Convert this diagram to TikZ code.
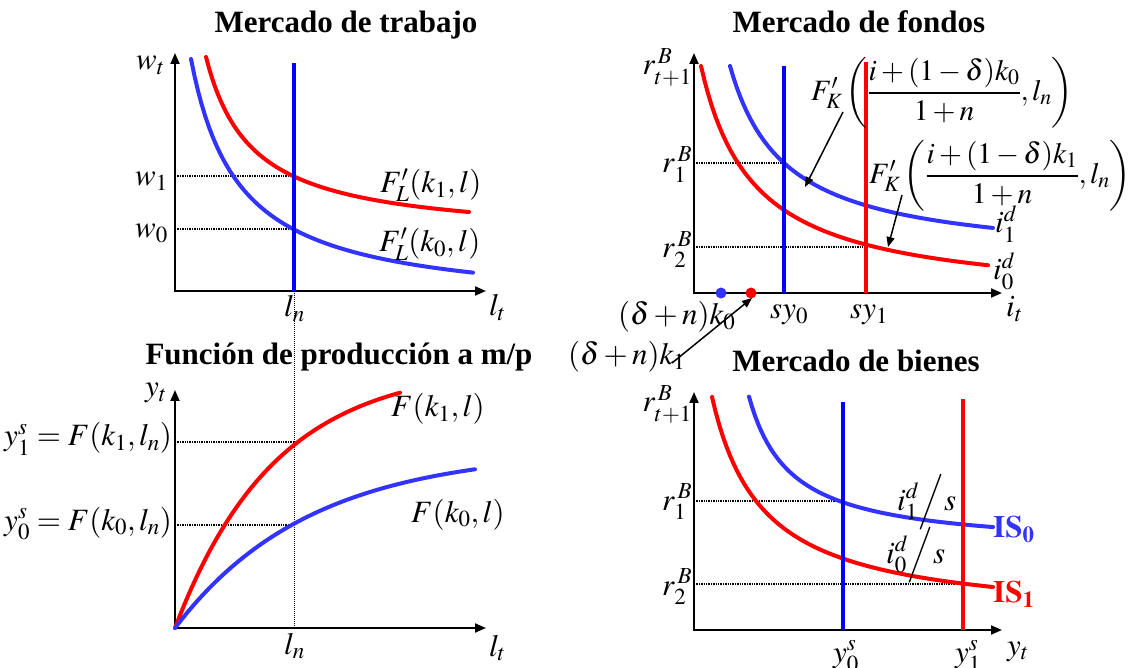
\documentclass[tikz,border=0pt]{standalone}
\usepackage{amsmath}
\usepackage{mathptmx}
\usepackage[no-math]{fontspec}
\setmainfont{Liberation Serif}
\usetikzlibrary{arrows.meta}
\definecolor{cb}{RGB}{51,51,255}
\definecolor{vb}{RGB}{0,0,255}
\definecolor{rr}{RGB}{255,0,0}
\begin{document}
\begin{tikzpicture}[x=1pt,y=-1pt,
  title/.style={font=\fontsize{31}{34}\selectfont\bfseries, inner sep=0pt, anchor=base},
  lbl/.style={font=\fontsize{31}{34}\selectfont, inner sep=0pt},
  biglbl/.style={font=\fontsize{29.5}{33}\selectfont, inner sep=0pt},
  axis/.style={line width=2pt, {Triangle[length=11pt,width=9pt]}-{Triangle[length=11pt,width=9pt]}},
  curvb/.style={line width=4pt, draw=cb, line cap=round},
  curvr/.style={line width=4pt, draw=rr, line cap=round},
  vline/.style={line width=4pt},
  guide/.style={line width=1.4pt, densely dotted},
  pointer/.style={line width=1.5pt, -{Triangle[length=10pt,width=8pt]}}
]
\useasboundingbox (0,0) rectangle (1128,668);

% ---------- Panel 1: Mercado de trabajo ----------
\node[title] (t1) at (346,33) {Mercado de trabajo};
\coordinate (o1) at (175,291);
\coordinate (y1) at (175,53);
\coordinate (x1) at (486,291);
\draw[axis] (y1) -- (o1) -- (x1);
\coordinate (ln1) at (294,291);
\coordinate (ln3) at (294,628);
\draw[line width=1pt, densely dotted] (ln1) -- (ln3);
\coordinate (w1a) at (175,176); \coordinate (w1b) at (294,176);
\coordinate (w0a) at (175,229); \coordinate (w0b) at (294,229);
\draw[guide] (w1a) -- (w1b);
\draw[guide] (w0a) -- (w0b);
\draw[curvr] plot[domain=206:469, samples=80] (\x, {239.3 - 8440/(\x-159.7)});
\draw[curvb] plot[domain=191:473, samples=80] (\x, {309 - 12000/(\x-143)});
\coordinate (lnt) at (294,63);
\draw[vline, draw=vb] (lnt) -- (ln1);
\node[lbl, anchor=base west] (wt) at (136,70) {$w_t$};
\node[lbl, anchor=base east] (w1) at (168,186) {$w_1$};
\node[lbl, anchor=base east] (w0) at (168,238) {$w_0$};
\node[lbl, anchor=base west] (fl1) at (380,193) {$F'_L(k_1,l)$};
\node[lbl, anchor=base west] (fl0) at (379,252) {$F'_L(k_0,l)$};
\node[lbl, anchor=base west] (lnA) at (284,317) {$l_n$};
\node[lbl, anchor=base west] (ltA) at (489,316) {$l_t$};

% ---------- Panel 3: Funcion de produccion ----------
\node[title] (t3) at (339,365) {Función de producción a m/p};
\coordinate (o3) at (175,628);
\coordinate (y3) at (175,390);
\coordinate (x3) at (486,628);
\draw[axis] (y3) -- (o3) -- (x3);
\coordinate (y1a) at (175,442); \coordinate (y1b) at (294,442);
\coordinate (y0a) at (175,525); \coordinate (y0b) at (294,525);
\draw[guide] (y1a) -- (y1b);
\draw[guide] (y0a) -- (y0b);
\draw[curvr] plot[domain=175:400, samples=80] (\x, {628 - 263*(1-exp(-(\x-175)/100))});
\draw[curvb] plot[domain=175:475, samples=80] (\x, {628 - 178*(1-exp(-(\x-175)/135))});
\node[lbl, anchor=base west] (yt) at (145,397) {$y_t$};
\node[lbl, anchor=base east] (ys1) at (172,446) {$y_1^s=F(k_1,l_n)$};
\node[lbl, anchor=base east] (ys0) at (172,530) {$y_0^s=F(k_0,l_n)$};
\node[lbl, anchor=base west] (fk1) at (391,417) {$F(k_1,l)$};
\node[lbl, anchor=base west] (fk0) at (411,522) {$F(k_0,l)$};
\node[lbl, anchor=base west] (lnB) at (284,654) {$l_n$};
\node[lbl, anchor=base west] (ltB) at (489,656) {$l_t$};

% ---------- Panel 2: Mercado de fondos ----------
\node[title] (t2) at (859,33) {Mercado de fondos};
\coordinate (o2) at (694,293);
\coordinate (y2) at (694,53);
\coordinate (x2) at (1002,293);
\draw[axis] (y2) -- (o2) -- (x2);
\coordinate (r1a) at (694,163); \coordinate (r1b) at (784,163);
\coordinate (r2a) at (694,247); \coordinate (r2b) at (866,247);
\draw[guide] (r1a) -- (r1b);
\draw[guide] (r2a) -- (r2b);
\draw[curvr] plot[domain=701:988, samples=80] (\x, {302 - 12508/(\x-648)});
\draw[curvb] plot[domain=730:993, samples=80] (\x, {261.8 - 10769/(\x-675)});
\coordinate (sy0t) at (784,66); \coordinate (sy0b) at (784,293);
\coordinate (sy1t) at (866,62); \coordinate (sy1b) at (866,293);
\draw[vline, draw=vb] (sy0t) -- (sy0b);
\draw[vline, draw=rr] (sy1t) -- (sy1b);
\fill[cb] (721,293) circle (5.5pt) coordinate (dk0);
\fill[rr] (751,293) circle (5.5pt) coordinate (dk1);
\node[lbl, anchor=base east] (rt2) at (692,75) {$r_{t+1}^{\,B}$};
\node[lbl, anchor=base west] (r12) at (662,173) {$r_1^{\,B}$};
\node[lbl, anchor=base west] (r22) at (662,258) {$r_2^{\,B}$};
\node[lbl, anchor=base west] (s0) at (770,319) {$sy_0$};
\node[lbl, anchor=base west] (s1) at (850,319) {$sy_1$};
\node[lbl, anchor=base west] (it) at (1006,317) {$i_t$};
\node[lbl, anchor=base west] (dn0) at (618,325) {$(\delta+n)k_0$};
\node[lbl, anchor=base west] (dn1) at (568,365) {$(\delta+n)k_1$};
\node[lbl, anchor=base west] (id1) at (995,233) {$i_1^d$};
\node[lbl, anchor=base west] (id0) at (993,280) {$i_0^d$};
\node[biglbl, anchor=west] (fk0lab) at (811,93) {$F'_K\left(\dfrac{i+(1-\delta)k_0}{1+n},l_n\right)$};
\node[biglbl, anchor=west] (fk1lab) at (869,176) {$F'_K\left(\dfrac{i+(1-\delta)k_1}{1+n},l_n\right)$};
\coordinate (a1s) at (843,112); \coordinate (a1e) at (805,187);
\coordinate (a2s) at (902,195); \coordinate (a2e) at (888,247);
\coordinate (a3s) at (672,363); \coordinate (a3e) at (752,298);
\draw[pointer] (a1s) -- (a1e);
\draw[pointer] (a2s) -- (a2e);
\draw[pointer] (a3s) -- (a3e);

% ---------- Panel 4: Mercado de bienes ----------
\node[title] (t4) at (856,372) {Mercado de bienes};
\coordinate (o4) at (694,630);
\coordinate (y4) at (694,392);
\coordinate (x4) at (1002,630);
\draw[axis] (y4) -- (o4) -- (x4);
\coordinate (q1a) at (694,501); \coordinate (q1b) at (843,501);
\coordinate (q2a) at (694,584); \coordinate (q2b) at (963,584);
\draw[guide] (q1a) -- (q1b);
\draw[guide] (q2a) -- (q2b);
\draw[curvr] plot[domain=712:993, samples=80] (\x, {621.5 - 11450/(\x-661)});
\draw[curvb] plot[domain=749:993, samples=80] (\x, {549.5 - 6420/(\x-707)});
\coordinate (ys0t) at (843,402); \coordinate (ys0b) at (843,630);
\coordinate (ys1t) at (963,399); \coordinate (ys1b) at (963,630);
\draw[vline, draw=vb] (ys0t) -- (ys0b);
\draw[vline, draw=rr] (ys1t) -- (ys1b);
\node[lbl, anchor=base east] (rt4) at (692,412) {$r_{t+1}^{\,B}$};
\node[lbl, anchor=base west] (r14) at (662,510) {$r_1^{\,B}$};
\node[lbl, anchor=base west] (r24) at (662,595) {$r_2^{\,B}$};
\node[lbl, anchor=base west, text=cb] (is0) at (993,537) {$\mathbf{IS_0}$};
\node[lbl, anchor=base west, text=rr] (is1) at (993,602) {$\mathbf{IS_1}$};
\node[lbl, anchor=base west] (ids1) at (897,510) {$i_1^d\Big/s$};
\node[lbl, anchor=base west] (ids0) at (886,563) {$i_0^d\Big/s$};
\node[lbl, anchor=base west] (yy0) at (833,662) {$y_0^s$};
\node[lbl, anchor=base west] (yy1) at (955,662) {$y_1^s$};
\node[lbl, anchor=base west] (ytt) at (1007,655) {$y_t$};
\end{tikzpicture}
\end{document}
